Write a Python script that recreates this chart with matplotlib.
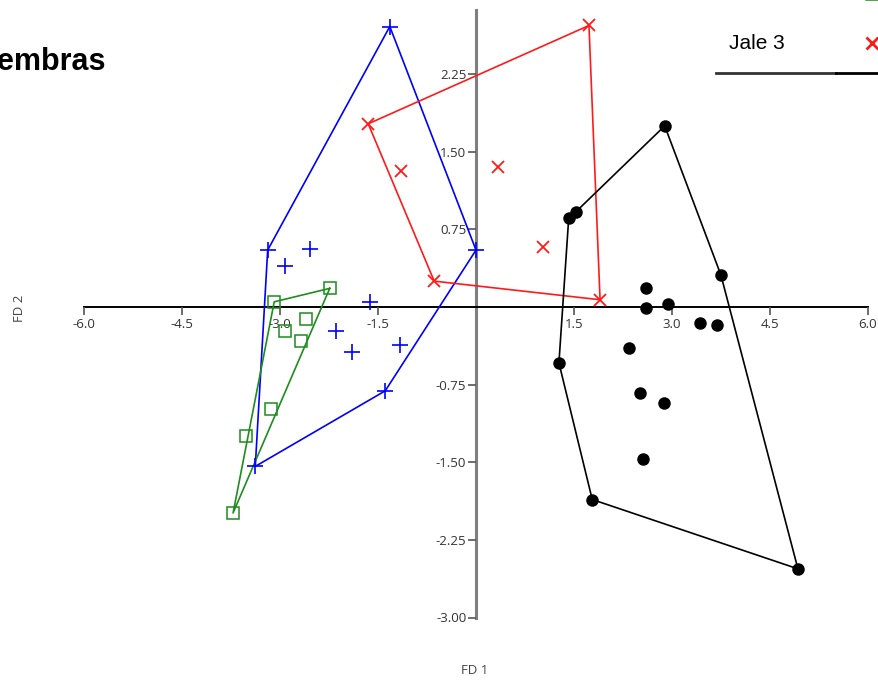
import matplotlib
matplotlib.use("Agg")
import matplotlib.pyplot as plt
from matplotlib.lines import Line2D

# Discriminant scores (FD 1, FD 2) per group
jale1_x = [-1.32, -3.19, -2.54, -2.92, 0.00, -1.62, -2.14, -1.90, -1.16, -1.39, -3.38]
jale1_y = [2.71, 0.55, 0.56, 0.40, 0.55, 0.05, -0.23, -0.43, -0.37, -0.81, -1.54]
jale1_hull = [0, 4, 9, 10, 1, 0]

jale2_x = [-2.24, -3.09, -2.60, -2.92, -2.68, -3.14, -3.52, -3.72]
jale2_y = [0.18, 0.05, -0.12, -0.23, -0.33, -0.99, -1.25, -1.99]
jale2_hull = [0, 1, 7, 0]

jale3_x = [1.73, -1.65, -1.15, 0.34, 1.03, -0.64, 1.90]
jale3_y = [2.72, 1.77, 1.31, 1.35, 0.58, 0.25, 0.07]
jale3_hull = [0, 6, 5, 1, 0]

jale4_x = [2.89, 1.53, 1.42, 3.75, 2.60, 2.60, 2.94, 3.43, 3.69, 2.34, 1.27, 2.51, 2.88, 2.56, 1.78, 4.93]
jale4_y = [1.75, 0.92, 0.86, 0.31, 0.18, -0.01, 0.03, -0.15, -0.17, -0.40, -0.54, -0.83, -0.93, -1.47, -1.86, -2.53]
jale4_hull = [0, 3, 15, 14, 10, 2, 1, 0]

x_ticks = [-6.0, -4.5, -3.0, -1.5, 1.5, 3.0, 4.5, 6.0]
y_ticks = [2.25, 1.50, 0.75, -0.75, -1.50, -2.25, -3.00]

W, H, DPI = 879, 683, 100
fig = plt.figure(figsize=(W / DPI, H / DPI), dpi=DPI)
ax = fig.add_axes([0, 0, 1, 1])

# pixel geometry of the data frame
x0_px, sx = 476.0, 65.3
y0_px, sy = 307.0, 103.5
ax.set_xlim(-x0_px / sx, (W - x0_px) / sx)
ax.set_ylim((y0_px - H) / sy, y0_px / sy)

groups = [
    (jale1_x, jale1_y, jale1_hull, "#0000ff", dict(marker="+", ms=11, mew=1.2, mfc="none")),
    (jale2_x, jale2_y, jale2_hull, "#1e8c1e", dict(marker="s", ms=9, mew=1.1, mfc="none")),
    (jale3_x, jale3_y, jale3_hull, "#ff1a1a", dict(marker="x", ms=9, mew=1.3, mfc="none")),
    (jale4_x, jale4_y, jale4_hull, "#000000", dict(marker="o", ms=9, mew=0, mfc="#000000")),
]
for xs, ys, hull, col, mk in groups:
    ax.plot([xs[i] for i in hull], [ys[i] for i in hull], color=col, lw=1.2, zorder=2)
    ax.plot(xs, ys, ls="none", color=col, zorder=3, **mk)

# axes crossing at the origin
for s in ("top", "right"):
    ax.spines[s].set_visible(False)
ax.spines["left"].set_position(("data", 0))
ax.spines["bottom"].set_position(("data", 0))
ax.spines["left"].set_bounds(-3.0, 2.87)
ax.spines["bottom"].set_bounds(-6.0, 6.0)
ax.spines["left"].set_color("#7f7f7f")
ax.spines["left"].set_linewidth(2.2)
ax.spines["bottom"].set_color("#000000")
ax.spines["bottom"].set_linewidth(1.4)
ax.spines["left"].set_zorder(1)
ax.spines["bottom"].set_zorder(1)

ax.set_xticks(x_ticks)
ax.set_xticklabels([f"{v:.1f}" for v in x_ticks])
ax.set_yticks(y_ticks)
ax.set_yticklabels([f"{v:.2f}" for v in y_ticks])
ax.tick_params(axis="x", direction="out", length=6, width=1.2, color="#555555",
               labelsize=9.5, labelcolor="#333333", pad=2)
ax.tick_params(axis="y", direction="out", length=6, width=1.2, color="#555555",
               labelsize=9.5, labelcolor="#333333", pad=1)
for lab in ax.get_xticklabels() + ax.get_yticklabels():
    lab.set_fontfamily("Open Sans")

def px(x, y):
    return x / W, 1 - y / H

# axis titles
fig.text(*px(475, 670), "FD 1", ha="center", va="center", fontsize=9.5,
         color="#444444", family="Open Sans")
fig.text(*px(20, 308), "FD 2", ha="center", va="center", rotation=90, fontsize=9.5,
         color="#444444", family="Open Sans")

# title
fig.text(*px(106, 70), "Hembras", ha="right", va="baseline", fontsize=22,
         fontweight="bold", family="Liberation Sans", color="#000000")

# legend block
fig.text(*px(729, -1), "Jale 2", ha="left", va="baseline", fontsize=15,
         family="Liberation Sans", color="#000000")
fig.text(*px(729, 49), "Jale 3", ha="left", va="baseline", fontsize=15,
         family="Liberation Sans", color="#000000")
fig.add_artist(Line2D([872 / W], [1 - (-6) / H], marker="s", ms=8, mfc="none",
                      mec="#1e8c1e", mew=1.1, transform=fig.transFigure))
fig.add_artist(Line2D([872 / W], [1 - 43 / H], marker="x", ms=8,
                      mec="#ff1a1a", mew=2.0, transform=fig.transFigure))
fig.add_artist(Line2D([716 / W, 836 / W], [1 - 73 / H] * 2, color="#333333", lw=2,
                      transform=fig.transFigure))
fig.add_artist(Line2D([836 / W, 1.0], [1 - 73 / H] * 2, color="#000000", lw=2,
                      transform=fig.transFigure))

fig.savefig("out.png", dpi=DPI)
